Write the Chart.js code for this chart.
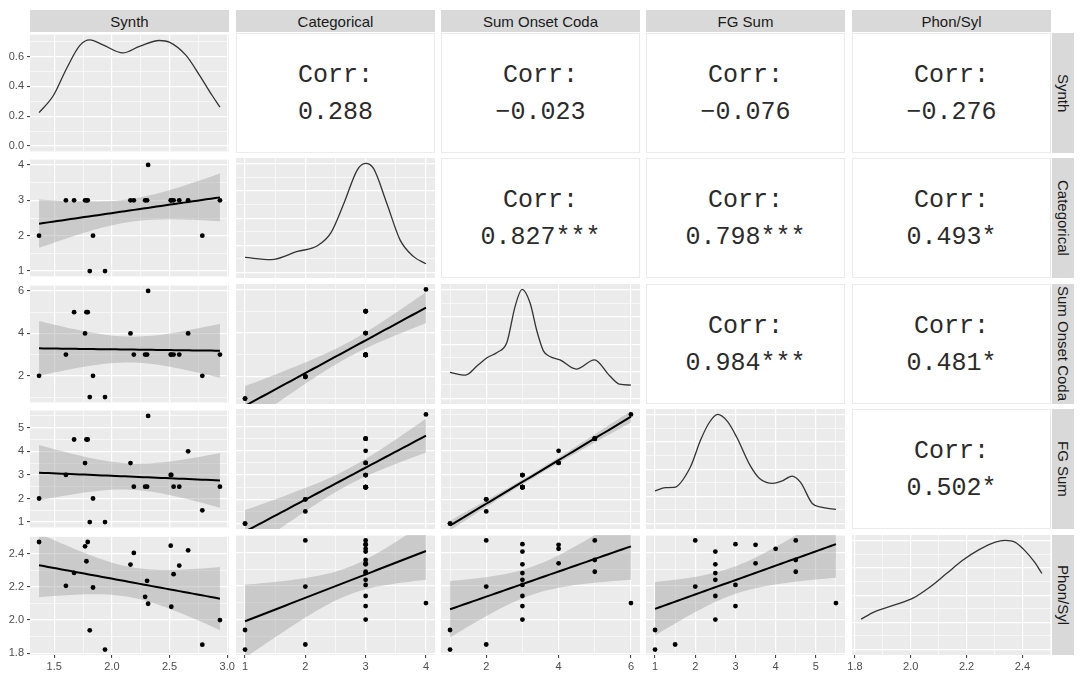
<!DOCTYPE html>
<html>
<head>
<meta charset="utf-8">
<script src="https://cdn.jsdelivr.net/npm/chart.js@4.4.1/dist/chart.umd.min.js"></script>
<style>
  body { margin: 0; background: #fff; width: 1084px; height: 678px; overflow: hidden; position: relative; font-family: "Liberation Sans", Arial, sans-serif; }
  .strip { position: absolute; background: #D9D9D9; color: #1A1A1A; font-size: 15px; display: flex; align-items: center; justify-content: center; white-space: nowrap; }
  .vstrip { writing-mode: vertical-rl; }
  .corr { position: absolute; background: #fff; border: 1px solid #EBEBEB; box-sizing: border-box; }
  .corr div { position: absolute; left: 0; right: 0; text-align: center; font-family: "Liberation Mono", "Courier New", monospace; font-size: 25px; color: #2b2b2b; line-height: 28px; }
  canvas { position: absolute; }
</style>
</head>
<body>
<script>
// variable names (strip labels)
const varNames = ['Synth', 'Categorical', 'Sum Onset Coda', 'FG Sum', 'Phon/Syl'];

// one value per item (21 items)
const synth        = [1.368, 1.601, 1.672, 1.767, 1.779, 1.790, 1.808, 1.836, 1.940, 2.161, 2.190, 2.288, 2.305, 2.314, 2.510, 2.515, 2.535, 2.584, 2.661, 2.784, 2.937];
const categorical  = [2, 3, 3, 3, 3, 3, 1, 2, 1, 3, 3, 3, 3, 4, 3, 3, 3, 3, 3, 2, 3];
const sumOnsetCoda = [2, 3, 5, 4, 5, 5, 1, 2, 1, 4, 3, 3, 3, 6, 3, 3, 3, 3, 4, 2, 3];
const fgSum        = [2, 3, 4.5, 3.5, 4.5, 4.5, 1, 2, 1, 3.5, 2.5, 2.5, 2.5, 5.5, 3, 3, 2.5, 2.5, 4, 1.5, 2.5];
const phonSyl      = [2.47, 2.206, 2.284, 2.444, 2.354, 2.47, 1.938, 2.196, 1.822, 2.334, 2.404, 2.140, 2.236, 2.098, 2.448, 2.080, 2.276, 2.328, 2.420, 1.852, 2.000];

// tick labels
const synthTicks = [1.5, 2.0, 2.5, 3.0];
const catTicks   = [1, 2, 3, 4];
const sumTicks   = [2, 4, 6];
const fgTicks    = [1, 2, 3, 4, 5];
const phonTicks  = [1.8, 2.0, 2.2, 2.4];
const densTicks  = [0.0, 0.2, 0.4, 0.6];
const relTicks   = [0, 0.25, 0.5, 0.75, 1];

// diagonal density curves
// (Synth in density units, the others relative to their own peak)
const densSynthX = [1.368, 1.491, 1.607, 1.722, 1.808, 1.922, 2.095, 2.239, 2.411, 2.497, 2.641, 2.756, 2.871, 2.937];
const densSynthY = [0.224, 0.337, 0.520, 0.674, 0.711, 0.678, 0.624, 0.668, 0.707, 0.696, 0.609, 0.479, 0.337, 0.261];
const densCatX = [1.0, 1.43, 1.87, 2.2, 2.42, 2.64, 2.86, 3.0, 3.13, 3.35, 3.57, 3.79, 4.0];
const densCatY = [0.139, 0.118, 0.194, 0.246, 0.362, 0.638, 0.943, 1.004, 0.958, 0.638, 0.301, 0.149, 0.081];
const densSumX = [1.0, 1.43, 1.75, 2.03, 2.30, 2.57, 2.80, 2.99, 3.21, 3.40, 3.58, 3.76, 4.04, 4.49, 4.99, 5.41, 5.68, 6.0];
const densSumY = [0.24, 0.216, 0.301, 0.378, 0.424, 0.515, 0.851, 1.004, 0.882, 0.622, 0.439, 0.387, 0.356, 0.271, 0.356, 0.21, 0.133, 0.124];
const densFgX = [1.0, 1.26, 1.47, 1.88, 2.13, 2.35, 2.56, 2.80, 3.03, 3.36, 3.60, 3.93, 4.15, 4.41, 4.62, 4.91, 5.16, 5.5];
const densFgY = [0.301, 0.33, 0.332, 0.521, 0.766, 0.93, 1.004, 0.94, 0.796, 0.537, 0.414, 0.369, 0.39, 0.436, 0.378, 0.185, 0.149, 0.13];
const densPhonX = [1.822, 1.87, 1.94, 2.01, 2.069, 2.128, 2.186, 2.245, 2.303, 2.338, 2.373, 2.408, 2.443, 2.47];
const densPhonY = [0.28, 0.347, 0.408, 0.476, 0.576, 0.699, 0.821, 0.919, 0.989, 1.004, 0.989, 0.913, 0.806, 0.70];

// correlation text, upper triangle, row by row
const corrRow1 = ['0.288', '\u22120.023', '\u22120.076', '\u22120.276'];
const corrRow2 = ['0.827***', '0.798***', '0.493*'];
const corrRow3 = ['0.984***', '0.481*'];
const corrRow4 = ['0.502*'];

const vars = [
  { data: synth, ticks: synthTicks, dec: 1, dx: densSynthX, dy: densSynthY },
  { data: categorical, ticks: catTicks, dec: 0, dx: densCatX, dy: densCatY },
  { data: sumOnsetCoda, ticks: sumTicks, dec: 0, dx: densSumX, dy: densSumY },
  { data: fgSum, ticks: fgTicks, dec: 0, dx: densFgX, dy: densFgY },
  { data: phonSyl, ticks: phonTicks, dec: 1, dx: densPhonX, dy: densPhonY }
];
const corrRows = [corrRow1, corrRow2, corrRow3, corrRow4];

// layout
const PX = [30, 236, 441, 646, 852];
const PY = [33, 158, 284, 409, 535];
const PW = 199, PH = 120;
const M = 12, MV = 8, AXW = 30, AXH = 22;

// ggplot style 5% expansion
function expand(arr) {
  const lo = Math.min(...arr), hi = Math.max(...arr);
  const d = (hi - lo) * 0.05;
  return { min: lo - d, max: hi + d };
}

function tickList(majors, rng) {
  const step = majors[1] - majors[0];
  const out = majors.filter(v => v >= rng.min && v <= rng.max).map(v => ({ value: v, isMinor: false }));
  for (let v = majors[0] - step / 2; v <= rng.max + 1e-9; v += step) {
    const vv = Math.round(v * 1000) / 1000;
    if (vv >= rng.min) out.push({ value: vv, isMinor: true });
  }
  return out.sort((a, b) => a.value - b.value);
}

// linear fit with 95% band (t quantile for 19 df)
function lmFit(xs, ys) {
  const n = xs.length;
  const mx = xs.reduce((a, b) => a + b, 0) / n;
  const my = ys.reduce((a, b) => a + b, 0) / n;
  let sxx = 0, sxy = 0;
  for (let i = 0; i < n; i++) { sxx += (xs[i] - mx) ** 2; sxy += (xs[i] - mx) * (ys[i] - my); }
  const b = sxy / sxx, a = my - b * mx;
  let sse = 0;
  for (let i = 0; i < n; i++) sse += (ys[i] - a - b * xs[i]) ** 2;
  const s = Math.sqrt(sse / (n - 2));
  const t = 2.093;
  const lo = Math.min(...xs), hi = Math.max(...xs);
  const line = [], up = [], dn = [];
  for (let k = 0; k <= 40; k++) {
    const x = lo + (hi - lo) * k / 40;
    const yh = a + b * x;
    const se = s * Math.sqrt(1 / n + (x - mx) ** 2 / sxx);
    line.push({ x, y: yh });
    up.push({ x, y: yh + t * se });
    dn.push({ x, y: yh - t * se });
  }
  return { line, up, dn };
}

const panelBg = {
  id: 'panelBg',
  beforeDraw(chart) {
    const { ctx, chartArea: a } = chart;
    ctx.save();
    ctx.fillStyle = '#EBEBEB';
    ctx.fillRect(a.left, a.top, a.right - a.left, a.bottom - a.top);
    ctx.restore();
  }
};

function axis(list, rng, showLabels, dec, isX, fixedSize) {
  return {
    type: 'linear',
    position: isX ? 'bottom' : 'left',
    min: rng.min,
    max: rng.max,
    border: { display: false },
    grid: {
      color: '#FFFFFF',
      lineWidth: c => (c.tick && c.tick.isMinor) ? 0.6 : 1.2,
      drawTicks: showLabels,
      tickLength: 3,
      tickWidth: 1,
      tickColor: c => (c.tick && c.tick.isMinor) ? 'rgba(0,0,0,0)' : '#333333'
    },
    ticks: {
      display: showLabels,
      autoSkip: false,
      maxRotation: 0,
      minRotation: 0,
      padding: isX ? 2 : 3,
      color: '#4D4D4D',
      font: { family: 'Liberation Sans', size: 11 },
      callback: (v, i, ticks) => ticks[i].isMinor ? '' : Number(v).toFixed(dec)
    },
    afterBuildTicks: s => { s.ticks = list.map(t => ({ value: t.value, isMinor: t.isMinor })); },
    afterFit: s => { if (isX) s.height = fixedSize; else s.width = fixedSize; }
  };
}

function makePanel(r, c) {
  const xv = vars[c], yv = vars[r];
  const xr = expand(xv.data);
  let yr, yTicks, yDec = yv.dec, datasets;

  if (r === c) {
    yr = expand([0, ...yv.dy]);
    yTicks = r === 0 ? densTicks : relTicks;
    yDec = 1;
    datasets = [{
      data: xv.dx.map((x, i) => ({ x, y: xv.dy[i] })),
      showLine: true, pointRadius: 0, borderColor: '#333333', borderWidth: 1.3,
      cubicInterpolationMode: 'monotone', fill: false
    }];
  } else {
    yr = expand(yv.data);
    yTicks = yv.ticks;
    const fit = lmFit(xv.data, yv.data);
    datasets = [
      { data: fit.up, showLine: true, pointRadius: 0, borderWidth: 0, fill: '+1', backgroundColor: 'rgba(153,153,153,0.4)', clip: 0, order: 3 },
      { data: fit.dn, showLine: true, pointRadius: 0, borderWidth: 0, fill: false, clip: 0, order: 3 },
      { data: fit.line, showLine: true, pointRadius: 0, borderColor: '#000000', borderWidth: 2, fill: false, clip: 0, order: 1 },
      { data: xv.data.map((x, i) => ({ x, y: yv.data[i] })), showLine: false, pointRadius: 2.4, pointBackgroundColor: '#000000', pointBorderWidth: 0, order: 0 }
    ];
  }

  const padL = c === 0 ? 0 : M;
  const cv = document.createElement('canvas');
  const w = PW + padL + M + (c === 0 ? AXW : 0);
  const h = PH + 2 * MV + (r === 4 ? AXH : 0);
  cv.width = w; cv.height = h;
  cv.style.width = w + 'px'; cv.style.height = h + 'px';
  cv.style.left = (PX[c] - padL - (c === 0 ? AXW : 0)) + 'px';
  cv.style.top = (PY[r] - MV) + 'px';
  document.body.appendChild(cv);

  new Chart(cv, {
    type: 'scatter',
    data: { datasets },
    options: {
      responsive: false,
      animation: false,
      events: [],
      layout: { padding: { left: padL, right: M, top: MV, bottom: MV } },
      plugins: { legend: { display: false }, tooltip: { enabled: false } },
      scales: {
        x: axis(tickList(xv.ticks, xr), xr, r === 4, xv.dec, true, r === 4 ? AXH : 0),
        y: axis(tickList(yTicks, yr), yr, c === 0, yDec, false, c === 0 ? AXW : 0)
      }
    },
    plugins: [panelBg]
  });
}

// strips
varNames.forEach((name, i) => {
  const t = document.createElement('div');
  t.className = 'strip';
  t.style.left = PX[i] + 'px'; t.style.top = '10px';
  t.style.width = PW + 'px'; t.style.height = '22px';
  t.textContent = name;
  document.body.appendChild(t);

  const s = document.createElement('div');
  s.className = 'strip vstrip';
  s.style.left = '1052px'; s.style.top = PY[i] + 'px';
  s.style.width = '22px'; s.style.height = PH + 'px';
  s.textContent = name;
  document.body.appendChild(s);
});

// correlation panels
corrRows.forEach((row, r) => {
  row.forEach((label, k) => {
    const c = r + 1 + k;
    const p = document.createElement('div');
    p.className = 'corr';
    p.style.left = PX[c] + 'px'; p.style.top = PY[r] + 'px';
    p.style.width = PW + 'px'; p.style.height = PH + 'px';
    const a = document.createElement('div');
    a.style.top = (PH / 2 - 18 - 14) + 'px';
    a.textContent = 'Corr:';
    const b = document.createElement('div');
    b.style.top = (PH / 2 + 19 - 14) + 'px';
    b.textContent = label;
    p.appendChild(a); p.appendChild(b);
    document.body.appendChild(p);
  });
});

for (let r = 0; r < 5; r++) {
  for (let c = 0; c <= r; c++) makePanel(r, c);
}
</script>
</body>
</html>
